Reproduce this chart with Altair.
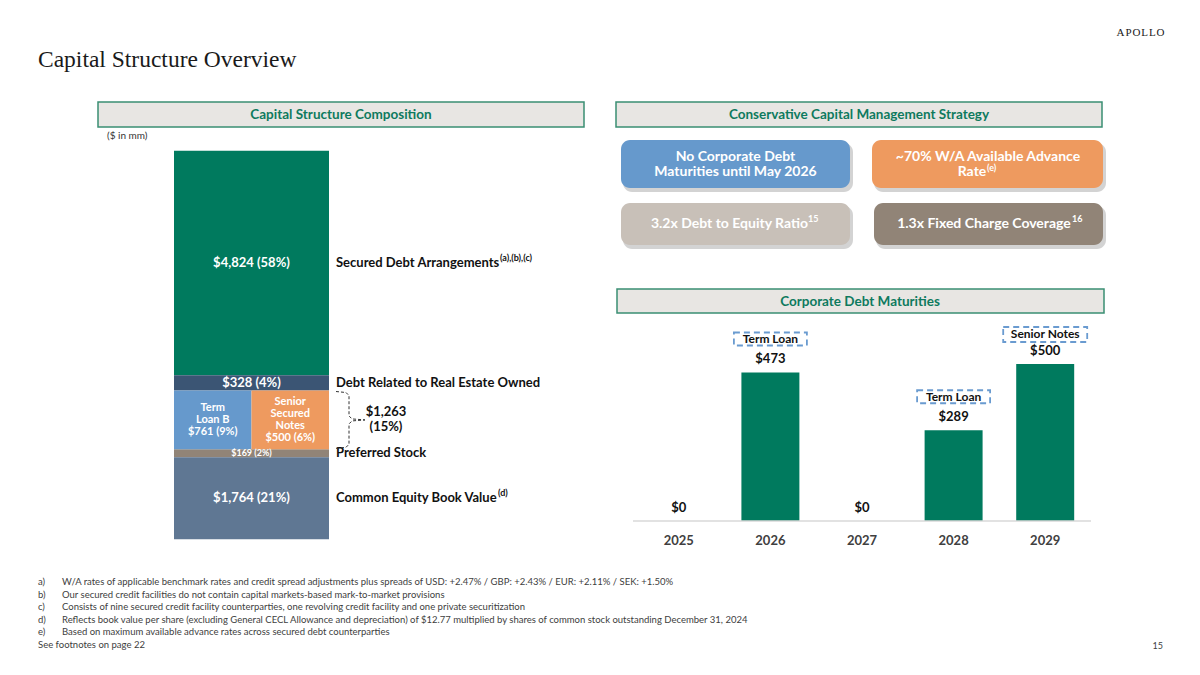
import altair as alt
import pandas as pd

# ---------------- data ----------------
cap_items = ["Secured Debt Arrangements", "Debt Related to Real Estate Owned", "Term Loan B",
             "Senior Secured Notes", "Preferred Stock", "Common Equity Book Value"]
cap_values = [4824, 328, 761, 500, 169, 1764]
cap_pct = [58, 4, 9, 6, 2, 21]
cap_colors = ["#007A5E", "#3B5574", "#6699CC", "#EE9A5F", "#918477", "#5F7793"]
corp_items = ["Term Loan B", "Senior Secured Notes"]
corp_total = 1263
corp_pct = 15
inner_names = {"Term Loan B": "Term\nLoan B", "Senior Secured Notes": "Senior\nSecured\nNotes"}
side_items = ["Secured Debt Arrangements", "Debt Related to Real Estate Owned",
              "Preferred Stock", "Common Equity Book Value"]
side_sups = ["(a),(b),(c)", "", "", "(d)"]

mat_years = ["2025", "2026", "2027", "2028", "2029"]
mat_values = [0, 473, 0, 289, 500]
mat_tags = ["", "Term Loan", "", "Term Loan", "Senior Notes"]

headers = ["Capital Structure Composition", "Conservative Capital Management Strategy",
           "Corporate Debt Maturities"]
kpi_texts = ["No Corporate Debt\nMaturities until May 2026", "~70% W/A Available Advance",
             "3.2x Debt to Equity Ratio", "1.3x Fixed Charge Coverage"]
kpi_sups = ["", "(e)", "15", "16"]
kpi_colors = ["#6699CC", "#EE9A5F", "#C8C0B8", "#918477"]

foot_keys = ["a)", "b)", "c)", "d)", "e)"]
foot_texts = [
    "W/A rates of applicable benchmark rates and credit spread adjustments plus spreads of USD: +2.47% / GBP: +2.43% / EUR: +2.11% / SEK: +1.50%",
    "Our secured credit facilities do not contain capital markets-based mark-to-market provisions",
    "Consists of nine secured credit facility counterparties, one revolving credit facility and one private securitization",
    "Reflects book value per share (excluding General CECL Allowance and depreciation) of $12.77 multiplied by shares of common stock outstanding December 31, 2024",
    "Based on maximum available advance rates across secured debt counterparties",
]
see_note = "See footnotes on page 22"
page_no = "15"
title = "Capital Structure Overview"
unit_note = "($ in mm)"

FONT = "Lato"
GREEN = "#007A5E"

# ---------------- scales ----------------
def sx():
    return alt.Scale(domain=[8, 1192], range=[0, 1184], nice=False, zero=False)

def sy():
    return alt.Scale(domain=[8, 667], range=[0, 659], nice=False, zero=False)

# stacked bar: tiers from top to bottom
tier_of = {}
tiers = []
for it, v in zip(cap_items, cap_values):
    if it in corp_items:
        if "corp" not in tiers:
            tiers.append("corp")
        tier_of[it] = "corp"
    else:
        tiers.append(it)
        tier_of[it] = it
tier_val = {t: (corp_total if t == "corp" else cap_values[cap_items.index(t)]) for t in tiers}
stack_total = sum(tier_val.values())
lo_of, hi_of = {}, {}
acc = 0
for t in reversed(tiers):
    lo_of[t] = acc
    acc += tier_val[t]
    hi_of[t] = acc

STACK_TOP, STACK_BOT = 142.7, 531.3
def stack_y():
    return alt.Scale(domain=[0, stack_total], range=[STACK_BOT, STACK_TOP], nice=False, zero=False)

def full_x():
    return alt.Scale(type="band", domain=["all"], range=[166, 321], paddingInner=0, paddingOuter=0)

def corp_x():
    return alt.Scale(type="band", domain=corp_items, range=[166, 321], paddingInner=0, paddingOuter=0)

rows = []
for it, v, p, c in zip(cap_items, cap_values, cap_pct, cap_colors):
    t = tier_of[it]
    lo, hi = lo_of[t], hi_of[t]
    lab = f"${v:,} ({p}%)"
    if it in inner_names:
        lab = inner_names[it] + "\n" + lab
    rows.append(dict(item=it, col=("all" if t != "corp" else it), lo=lo, hi=hi,
                     mid=(lo + hi) / 2, color=c, label=lab, corp=(t == "corp"),
                     nlines=lab.count("\n") + 1,
                     small=(hi - lo) / stack_total < 0.03))
stack = pd.DataFrame(rows)
full = stack[~stack.corp]
corp = stack[stack.corp]

layers = []

# full-width segments
layers.append(alt.Chart(full).mark_bar().encode(
    x=alt.X("col:N", scale=full_x(), axis=None),
    y=alt.Y("lo:Q", scale=stack_y(), axis=None), y2="hi:Q",
    color=alt.Color("color:N", scale=None)))
# corporate split segments
layers.append(alt.Chart(corp).mark_bar().encode(
    x=alt.X("col:N", scale=corp_x(), axis=None),
    y=alt.Y("lo:Q", scale=stack_y(), axis=None), y2="hi:Q",
    color=alt.Color("color:N", scale=None)))
# inner labels (regular and thin segments)
for d, fs in [(full[~full.small], 13), (full[full.small], 9)]:
    layers.append(alt.Chart(d).mark_text(font=FONT, fontSize=fs, fontWeight="bold", color="white",
                                         align="center", baseline="middle").encode(
        x=alt.X("col:N", scale=full_x(), axis=None, bandPosition=0.5),
        y=alt.Y("mid:Q", scale=stack_y(), axis=None), text="label:N"))
LH = 12
for n in sorted(corp.nlines.unique()):
    d = corp[corp.nlines == n]
    layers.append(alt.Chart(d).mark_text(font=FONT, fontSize=11, fontWeight="bold", color="white",
                                         align="center", baseline="middle", lineBreak="\n",
                                         lineHeight=LH, dy=-(n - 1) * LH / 2).encode(
        x=alt.X("col:N", scale=corp_x(), axis=None, bandPosition=0.5),
        y=alt.Y("mid:Q", scale=stack_y(), axis=None), text="label:N"))

# side labels
side = stack.set_index("item").loc[side_items].reset_index()
side["sup"] = side_sups
layers.append(alt.Chart(side).mark_text(font=FONT, fontSize=13, fontWeight="bold", color="#111111",
                                        align="left", baseline="middle").encode(
    x=alt.value(328), y=alt.Y("mid:Q", scale=stack_y(), axis=None), text="item:N"))
side_s = side[side["sup"] != ""].copy()
side_s["sx"] = [500, 498]
layers.append(alt.Chart(side_s).mark_text(font=FONT, fontSize=9, fontWeight="bold", color="#111111",
                                          align="left", baseline="middle", dy=-5).encode(
    x=alt.X("sx:Q", scale=sx(), axis=None),
    y=alt.Y("mid:Q", scale=stack_y(), axis=None), text="sup:N"))

# brace for corporate group
T, B = hi_of["corp"], lo_of["corp"]
M = (T + B) / 2
u = stack_total / (STACK_BOT - STACK_TOP)
brace_pts = [
    (0, 0, 336, T - 1 * u), (0, 1, 346, T - 2 * u), (0, 2, 349, T - 5 * u), (0, 3, 349, M + 4 * u),
    (0, 4, 352, M + 1 * u), (0, 5, 365, M),
    (1, 0, 336, B + 1 * u), (1, 1, 346, B + 2 * u), (1, 2, 349, B + 5 * u), (1, 3, 349, M - 4 * u),
    (1, 4, 352, M - 1 * u), (1, 5, 365, M),
]
brace = pd.DataFrame(brace_pts, columns=["part", "o", "x", "y"])
layers.append(alt.Chart(brace).mark_line(color="#333333", strokeWidth=1, strokeDash=[3, 2]).encode(
    x=alt.X("x:Q", scale=sx(), axis=None), y=alt.Y("y:Q", scale=stack_y(), axis=None),
    detail="part:N", order="o:Q"))
brace_lab = pd.DataFrame([dict(x=386, y=M, t=f"${corp_total:,}\n({corp_pct}%)")])
layers.append(alt.Chart(brace_lab).mark_text(font=FONT, fontSize=13, fontWeight="bold", color="#111111",
                                             align="center", baseline="middle", lineBreak="\n",
                                             lineHeight=15, dy=-7.5).encode(
    x=alt.X("x:Q", scale=sx(), axis=None), y=alt.Y("y:Q", scale=stack_y(), axis=None), text="t:N"))

# ---------------- maturities ----------------
mat = pd.DataFrame(dict(year=mat_years, v=mat_values, tag=mat_tags))
mat["lab"] = [f"${v:,}" for v in mat_values]

def mat_x():
    return alt.Scale(type="band", domain=mat_years, range=[625, 1083], paddingInner=0.367,
                     paddingOuter=0.1835)

def mat_y():
    return alt.Scale(domain=[0, max(mat_values)], range=[513, 356], nice=False, zero=True)

layers.append(alt.Chart(mat).mark_bar(color=GREEN).encode(
    x=alt.X("year:N", scale=mat_x(), axis=None),
    y=alt.Y("v:Q", scale=mat_y(), axis=None)))
layers.append(alt.Chart(pd.DataFrame(dict(v=[0]))).mark_rule(color="#D9D9D9", strokeWidth=1.5).encode(
    x=alt.value(625), x2=alt.value(1083), y=alt.Y("v:Q", scale=mat_y(), axis=None)))
layers.append(alt.Chart(mat).mark_text(font=FONT, fontSize=13, fontWeight="bold", color="#111111",
                                       baseline="middle", dy=-13).encode(
    x=alt.X("year:N", scale=mat_x(), axis=None, bandPosition=0.5),
    y=alt.Y("v:Q", scale=mat_y(), axis=None), text="lab:N"))
layers.append(alt.Chart(mat).mark_text(font=FONT, fontSize=13, fontWeight="bold", color="#404040",
                                       baseline="middle").encode(
    x=alt.X("year:N", scale=mat_x(), axis=None, bandPosition=0.5),
    y=alt.value(533), text="year:N"))
tl = mat[mat.tag == "Term Loan"]
sn = mat[mat.tag == "Senior Notes"]
for d, w, o1, o2, dyt in [(tl, 73, -40, -27, -33), (sn, 84, -37, -22, -30)]:
    layers.append(alt.Chart(d).mark_bar(width=w, yOffset=o1, y2Offset=o2, fill="white", fillOpacity=0,
                                        stroke="#6A9BD0", strokeWidth=1.8, strokeDash=[6, 4]).encode(
        x=alt.X("year:N", scale=mat_x(), axis=None),
        y=alt.Y("v:Q", scale=mat_y(), axis=None), y2="v:Q"))
    layers.append(alt.Chart(d).mark_text(font=FONT, fontSize=12, fontWeight="bold", color="#111111",
                                         baseline="middle", dy=dyt).encode(
        x=alt.X("year:N", scale=mat_x(), axis=None, bandPosition=0.5),
        y=alt.Y("v:Q", scale=mat_y(), axis=None), text="tag:N"))

# ---------------- decorations ----------------
def rects(df, **mk):
    enc = dict(x=alt.X("x:Q", scale=sx(), axis=None), x2="x2:Q",
               y=alt.Y("y:Q", scale=sy(), axis=None), y2="y2:Q")
    if "c" in df.columns:
        enc["color"] = alt.Color("c:N", scale=None)
    return alt.Chart(df).mark_rect(**mk).encode(**enc)

def texts(df, **mk):
    return alt.Chart(df).mark_text(**mk).encode(
        x=alt.X("x:Q", scale=sx(), axis=None), y=alt.Y("y:Q", scale=sy(), axis=None), text="t:N")

hdr_box = pd.DataFrame(dict(x=[98, 616, 617], x2=[584, 1102, 1104], y=[102, 102, 289], y2=[127, 127, 313]))
layers.append(rects(hdr_box, fill="#E8E6E3", stroke="#3A8F73", strokeWidth=1.5))
hdr_txt = pd.DataFrame(dict(x=[341, 859, 860], y=[115, 115, 301.5], t=headers))
layers.append(texts(hdr_txt, font=FONT, fontSize=13.5, fontWeight="bold", color="#0E7A5E",
                    align="center", baseline="middle"))

kx = [621, 872, 621, 874]
kx2 = [850, 1103, 850, 1103]
ky = [140, 140, 203, 203]
ky2 = [188, 188, 245, 245]
shadow = pd.DataFrame(dict(x=[a + 2 for a in kx], x2=[a + 3 for a in kx2],
                           y=[a + 3 for a in ky], y2=[a + 4 for a in ky2]))
layers.append(rects(shadow, fill="#808080", opacity=0.35, cornerRadius=9))
kbox = pd.DataFrame(dict(x=kx, x2=kx2, y=ky, y2=ky2, c=kpi_colors))
layers.append(rects(kbox, cornerRadius=9))
ktxt = pd.DataFrame(dict(x=[735.5, 988, 729.5, 984], y=[157, 157, 224, 224], t=kpi_texts))
layers.append(texts(ktxt, font=FONT, fontSize=14, fontWeight="bold", color="white", align="center",
                    baseline="middle", lineBreak="\n", lineHeight=15))
layers.append(texts(pd.DataFrame(dict(x=[972], y=[172], t=["Rate"])), font=FONT, fontSize=14,
                    fontWeight="bold", color="white", align="center", baseline="middle"))
ksup = pd.DataFrame(dict(x=[987, 808, 1072], y=[168, 219, 219], t=kpi_sups[1:]))
layers.append(texts(ksup, font=FONT, fontSize=9, fontWeight="bold", color="white", align="left",
                    baseline="middle"))

layers.append(texts(pd.DataFrame(dict(x=[38], y=[60], t=[title])), font="Liberation Serif",
                    fontSize=23.5, color="#1A1A1A", align="left", baseline="middle"))
layers.append(texts(pd.DataFrame(dict(x=[1140.5], y=[33], t=["A\u200aP\u200aO\u200aL\u200aL\u200aO"])),
                    font="Liberation Serif", fontSize=11, color="#1A1A1A", align="center",
                    baseline="middle"))
layers.append(texts(pd.DataFrame(dict(x=[107], y=[136], t=[unit_note])), font=FONT, fontSize=10,
                    color="#333333", align="left", baseline="middle"))

fy = [582, 594.5, 607, 619.5, 632]
layers.append(texts(pd.DataFrame(dict(x=[38] * 5, y=fy, t=foot_keys)), font=FONT, fontSize=9.5,
                    color="#404040", align="left", baseline="middle"))
layers.append(texts(pd.DataFrame(dict(x=[62] * 5, y=fy, t=foot_texts)), font=FONT, fontSize=9.5,
                    color="#404040", align="left", baseline="middle"))
layers.append(texts(pd.DataFrame(dict(x=[38], y=[644.5], t=[see_note])), font=FONT, fontSize=9.5,
                    color="#404040", align="left", baseline="middle"))
layers.append(texts(pd.DataFrame(dict(x=[1163], y=[645.5], t=[page_no])), font=FONT, fontSize=9,
                    color="#404040", align="right", baseline="middle"))

chart = alt.layer(*layers).resolve_scale(x="independent", y="independent").properties(
    width=1184, height=659, padding=0, background="white"
).configure_view(stroke=None)

chart.save("out.html", embed_options={"renderer": "svg", "actions": False})
